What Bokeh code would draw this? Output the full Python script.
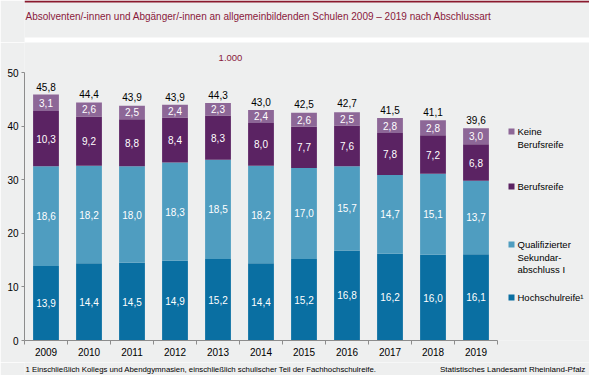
import numpy as np
from bokeh.plotting import figure
from bokeh.layouts import column
from bokeh.models import ColumnDataSource, Range1d, FixedTicker, Label, BoxAnnotation
from bokeh.core.properties import value
from bokeh.embed import file_html
from bokeh.resources import INLINE

# ---------------- data ----------------
years = ["2009", "2010", "2011", "2012", "2013", "2014", "2015", "2016", "2017", "2018", "2019"]
hochschulreife = [13.9, 14.4, 14.5, 14.9, 15.2, 14.4, 15.2, 16.8, 16.2, 16.0, 16.1]
qualifiziert = [18.6, 18.2, 18.0, 18.3, 18.5, 18.2, 17.0, 15.7, 14.7, 15.1, 13.7]
berufsreife = [10.3, 9.2, 8.8, 8.4, 8.3, 8.0, 7.7, 7.6, 7.8, 7.2, 6.8]
keine_berufsreife = [3.1, 2.6, 2.5, 2.4, 2.3, 2.4, 2.6, 2.5, 2.8, 2.8, 3.0]
totals = [45.8, 44.4, 43.9, 43.9, 44.3, 43.0, 42.5, 42.7, 41.5, 41.1, 39.6]
y_ticks = [0, 10, 20, 30, 40, 50]
legend_labels = [["Keine", "Berufsreife"], ["Berufsreife"],
                 ["Qualifizierter", "Sekundar-", "abschluss  I"], ["Hochschulreife¹"]]
title_text = "Absolventen/-innen und Abgänger/-innen an allgemeinbildenden Schulen 2009 – 2019 nach Abschlussart"
footnote = "1 Einschließlich Kollegs und Abendgymnasien,  einschließlich schulischer Teil der Fachhochschulreife."
source_text = "Statistisches Landesamt  Rheinland-Pfalz"
unit_note = "1.000"

# ---------------- style ----------------
BG = "#EEEFEF"
MAROON = "#8A1A3C"
COLORS = ["#0A6FA2", "#4F9DC0", "#5B2363", "#8D6797"]
AXIS = "#8C8C8C"
FONT = "Liberation Sans"

W = 589
HEAD_H = 42
MAIN_H = 320
FOOT_H = 13

# ---------------- header ----------------
head = figure(width=W, height=HEAD_H, output_backend="svg", toolbar_location=None,
              x_range=Range1d(0, W), y_range=Range1d(HEAD_H, 0),
              x_axis_type=None, y_axis_type=None, min_border=0)
head.background_fill_color = BG
head.border_fill_color = BG
head.outline_line_color = None
head.grid.visible = False
head.add_layout(BoxAnnotation(left=0, right=W, top=0, bottom=2, fill_color="#8A1A2E",
                              fill_alpha=1, line_color=None))
head.add_layout(BoxAnnotation(left=0, right=W, top=37, bottom=HEAD_H, fill_color="white",
                              fill_alpha=1, line_color=None))
head.add_layout(Label(x=1, y=16, text=title_text, text_color=MAROON, text_font=FONT,
                      text_font_size="10px", text_baseline="middle"))

# ---------------- main chart ----------------
n = len(years)
ymax = y_ticks[-1]
FL = 24               # frame left (px)
F50 = 30              # pixel row of y=50 inside main figure
F0 = 298              # pixel row of y=0 inside main figure
pxx = 43.0
pxy = (F0 - F50) / ymax
x_end = (W - FL) / pxx
y_end = F0 / pxy


def dy(py):
    return (F0 - py) / pxy


def dx(px):
    return (px - FL) / pxx


p = figure(width=W, height=MAIN_H, output_backend="svg", toolbar_location=None,
           x_range=Range1d(0, x_end), y_range=Range1d(0, y_end),
           min_border_left=FL, min_border_right=0, min_border_top=0,
           min_border_bottom=MAIN_H - F0)
p.background_fill_color = BG
p.border_fill_color = BG
p.outline_line_color = None
p.xgrid.visible = False
p.ygrid.visible = False

xs = [i + 0.5 for i in range(n)]
src = ColumnDataSource(dict(x=xs, hs=hochschulreife, qs=qualifiziert, br=berufsreife, kb=keine_berufsreife))
p.vbar_stack(["hs", "qs", "br", "kb"], x="x", width=0.6, color=COLORS, line_color=None, source=src)

stack = np.array([hochschulreife, qualifiziert, berufsreife, keine_berufsreife])
cum = np.cumsum(stack, axis=0)
centers = cum - stack / 2
lx, ly, lt = [], [], []
for k in range(stack.shape[0]):
    for i in range(n):
        lx.append(xs[i])
        ly.append(centers[k, i])
        lt.append(f"{stack[k, i]:.1f}".replace(".", ","))
p.text(x=lx, y=ly, text=lt, text_color="white", text_font=value(FONT), text_font_size="10px",
       text_align="center", text_baseline="middle")
p.text(x=xs, y=totals, text=[f"{t:.1f}".replace(".", ",") for t in totals], text_color="black",
       text_font=value(FONT), text_font_size="10px", text_align="center", text_baseline="middle",
       y_offset=-8.5)

# axes
xa = p.xaxis[0]
xa.bounds = (0, n)
xa.ticker = FixedTicker(ticks=xs, minor_ticks=list(range(n + 1)))
xa.major_label_overrides = {x: y for x, y in zip(xs, years)}
xa.major_tick_out = 0
xa.major_tick_in = 0
xa.minor_tick_out = 4
xa.minor_tick_in = 0
xa.minor_tick_line_color = AXIS
xa.axis_line_color = AXIS
xa.major_label_standoff = 3
xa.major_label_text_font = FONT
xa.major_label_text_font_size = "10px"
xa.major_label_text_color = "black"

ya = p.yaxis[0]
ya.bounds = (0, ymax)
ya.ticker = FixedTicker(ticks=y_ticks, minor_ticks=[])
ya.major_tick_out = 3
ya.major_tick_in = 0
ya.major_tick_line_color = AXIS
ya.axis_line_color = AXIS
ya.major_label_standoff = 3
ya.major_label_text_font = FONT
ya.major_label_text_font_size = "10px"
ya.major_label_text_color = "black"

p.add_layout(Label(x=dx(230), y=dy(15), text=unit_note, text_color=MAROON, text_font=FONT,
                   text_font_size="9.5px", text_baseline="middle", text_align="center"))

# legend (manual, right of the bars)
leg_y = [89, 144, 202, 255]
leg_colors = [COLORS[3], COLORS[2], COLORS[1], COLORS[0]]
for lines, y0, c in zip(legend_labels, leg_y, leg_colors):
    p.add_layout(BoxAnnotation(left=dx(508), right=dx(514), top=dy(y0 - 3), bottom=dy(y0 + 3),
                               fill_color=c, fill_alpha=1, line_color=None))
    for j, t in enumerate(lines):
        p.add_layout(Label(x=dx(517), y=dy(y0 + 12.5 * j), text=t, text_color="black", text_font=FONT,
                           text_font_size="9.5px", text_baseline="middle"))

# ---------------- footer ----------------
foot = figure(width=W, height=FOOT_H, output_backend="svg", toolbar_location=None,
              x_range=Range1d(0, W), y_range=Range1d(FOOT_H, 0),
              x_axis_type=None, y_axis_type=None, min_border=0)
foot.background_fill_color = BG
foot.border_fill_color = BG
foot.outline_line_color = None
foot.grid.visible = False
foot.add_layout(Label(x=1, y=7, text=footnote, text_color="black", text_font=FONT,
                      text_font_size="7.8px", text_baseline="middle"))
foot.add_layout(Label(x=W - 2, y=7, text=source_text, text_color="black", text_font=FONT,
                      text_font_size="8px", text_baseline="middle", text_align="right"))

page = column(head, p, foot, spacing=0)
open("out.html", "w").write(file_html(page, INLINE))
